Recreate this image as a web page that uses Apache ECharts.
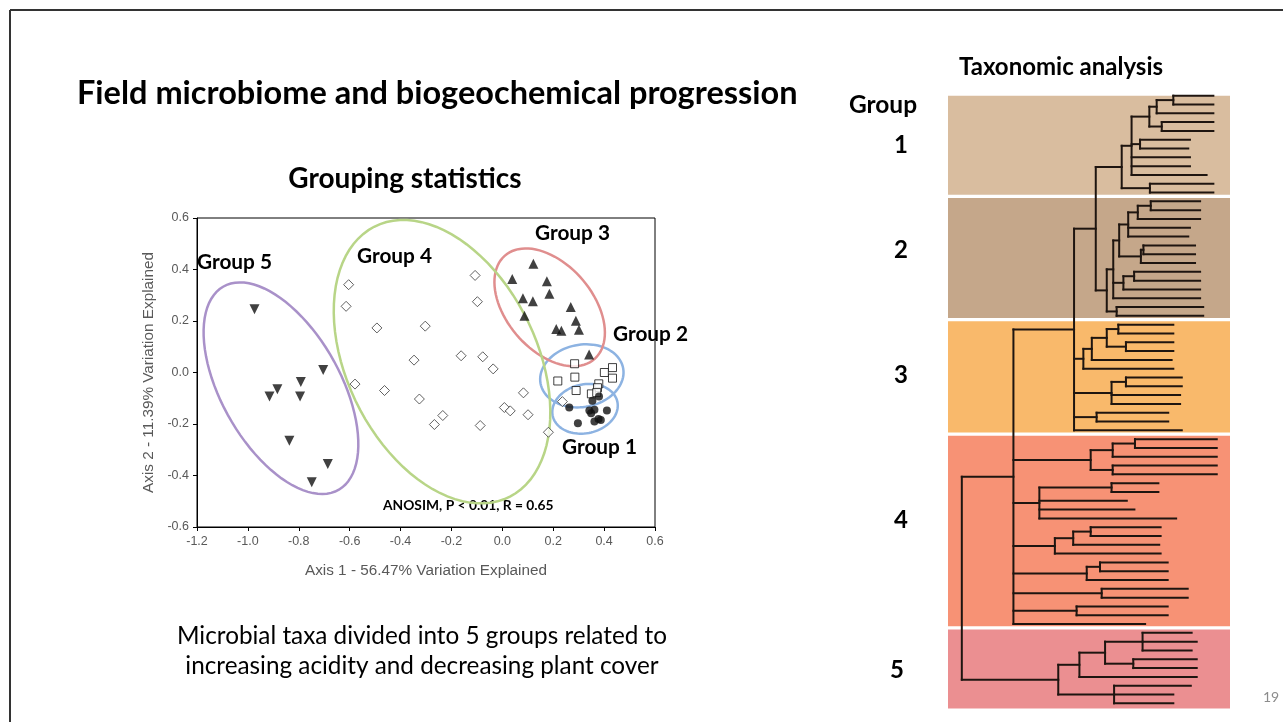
<!DOCTYPE html>
<html><head><meta charset="utf-8">
<script src="https://cdn.jsdelivr.net/npm/echarts@6/dist/echarts.min.js"></script>
<style>html,body{margin:0;padding:0;background:#fff}#c{width:1283px;height:722px}</style>
</head><body><div id="c"></div>
<script>
// ---------- Ordination (PCoA) data ----------
const xTicks = [-1.2, 0.6, 0.2];   // min, max, interval
const yTicks = [-0.6, 0.6, 0.2];
const group1Pts = [[0.354,-0.110],[0.380,-0.093],[0.263,-0.136],[0.342,-0.148],[0.362,-0.145],[0.411,-0.148],[0.349,-0.158],[0.378,-0.181],[0.362,-0.190],[0.297,-0.197],[0.387,-0.184]];
const group2Pts = [[0.284,0.034],[0.218,-0.033],[0.285,-0.018],[0.290,-0.070],[0.433,0.019],[0.401,0.000],[0.433,-0.022],[0.379,-0.044],[0.374,-0.059],[0.350,-0.083],[0.371,-0.078]];
const group3Pts = [[0.122,0.422],[0.039,0.363],[0.175,0.354],[0.185,0.306],[0.081,0.288],[0.120,0.277],[0.269,0.254],[0.087,0.220],[0.289,0.201],[0.212,0.169],[0.232,0.162],[0.301,0.166],[0.341,0.070]];
const group4Pts = [[-0.604,0.341],[-0.614,0.257],[-0.493,0.173],[-0.303,0.180],[-0.107,0.377],[-0.098,0.275],[-0.347,0.048],[-0.162,0.065],[-0.077,0.061],[-0.036,0.014],[-0.579,-0.045],[-0.463,-0.070],[-0.326,-0.103],[-0.234,-0.167],[-0.267,-0.202],[-0.087,-0.206],[0.008,-0.136],[0.031,-0.149],[0.083,-0.079],[0.101,-0.164],[0.181,-0.232],[0.236,-0.113]];
const group5Pts = [[-0.974,0.246],[-0.704,0.010],[-0.792,-0.037],[-0.884,-0.065],[-0.915,-0.093],[-0.795,-0.093],[-0.837,-0.265],[-0.686,-0.355],[-0.749,-0.426]];
// ellipses: center, semi-axes (data units), rotation (deg)
const ellipseCenters = [[0.325,-0.141],[0.3125,-0.013],[0.186,0.253],[-0.237,0.042],[-0.870,-0.061]];
const ellipseAxes = [[0.130,0.095],[0.165,0.121],[0.267,0.168],[0.588,0.372],[0.455,0.233]];
const ellipseAngles = [12,10,-48.5,-63,-60];
const ellipseColors = ['#8db3e2','#8db3e2','#e08e8e','#b8d587','#a991c9'];

// ---------- Dendrogram data (height on 0..1 scale; leaf = tip height) ----------
const tree1 = [0.616,
  [0.651,
    [0.714, [0.740, [0.799, 0.941, 0.941], 0.941], [0.758, 0.941, 0.941]],
    [0.681, 0.858, 0.852], 0.858, 0.858, 0.917],
  [0.716, 0.941, 0.941]];
const tree2 = [0.563,
  [0.586,
    [0.607,
      [0.639, [0.673, [0.719, 0.894, 0.894], 0.894], 0.858, 0.852],
      [0.684, [0.693, 0.876, 0.876], 0.876]],
    [0.622, [0.660, 0.894, 0.894], 0.894],
    0.894],
  [0.598, 0.905, 0.905]];
const tree3Parts = [
  [0.480, [0.510, [0.563, [0.604, 0.799, 0.799], [0.631, 0.799, 0.799]], 0.793], 0.799],
  [0.580, [0.631, 0.829, 0.829], 0.823, 0.823],
  [0.527, 0.781, 0.781],
  0.829];
const tree4Parts = [
  [0.506, [0.584, [0.663, 0.953, 0.953], 0.953], [0.584, 0.953, 0.953]],
  [0.324, [0.580, 0.746, 0.746], 0.634, 0.661, 0.809],
  [0.379, [0.444, [0.506, 0.754, 0.754], 0.749], 0.754],
  [0.492, [0.539, 0.779, 0.779], 0.779],
  [0.545, 0.850, 0.850],
  [0.456, 0.779, 0.779],
  0.699];
const tree5 = [0.391, [0.466, [0.557, [0.690, 0.864, 0.882, 0.864], [0.657, 0.882, 0.882]], 0.882], [0.589, 0.861, 0.799, 0.799]];
const joinHeights = [0.524, 0.447, 0.232, 0.049]; // groups 1+2, +3, +4, +5
const groupLeafCounts = [12, 14, 13, 22, 9];
const bandColors = ['#d9bd9f', '#c5a78a', '#f9b96b', '#f79275', '#eb8f91'];
const groupNumbers = ['1','2','3','4','5'];

// ---------- build dendrogram segments ----------
const fullTree = [joinHeights[3], [joinHeights[2], [joinHeights[1], [joinHeights[0], tree1, tree2], ...tree3Parts], ...tree4Parts], tree5];
let leafCounter = 0;
const segs = [];
function layout(node) {
  if (typeof node === 'number') return {x: node, y: leafCounter++};
  const h = node[0];
  const kids = node.slice(1).map(layout);
  const y0 = kids[0].y, y1 = kids[kids.length - 1].y;
  segs.push([h, y0, h, y1]);
  kids.forEach(k => segs.push([h, k.y, k.x, k.y]));
  return {x: h, y: (y0 + y1) / 2};
}
layout(fullTree);
const totalLeaves = leafCounter;
const yMaxDend = totalLeaves - 1 + 0.6;
const bands = [];
let start = 0;
groupLeafCounts.forEach((n, i) => {
  const top = Math.max(0, start - 0.38);
  const bottom = i === groupLeafCounts.length - 1 ? yMaxDend : start + n - 1 + 0.25;
  bands.push([top, bottom, i]);
  start += n;
});

const FONT = 'Lato, "Open Sans", sans-serif';
const AX = '"Liberation Sans", Arial, sans-serif';
const chart = echarts.init(document.getElementById('c'), null, {renderer: 'canvas'});
const fmt = v => v.toFixed(1);

const option = {
  animation: false,
  backgroundColor: '#ffffff',
  grid: [
    {left: 197, top: 218, width: 458, height: 309, show: true, borderColor: '#000', borderWidth: 1, backgroundColor: 'transparent'},
    {left: 948, top: 95.7, width: 282, height: 612.9, show: false}
  ],
  xAxis: [
    {gridIndex: 0, type: 'value', min: xTicks[0], max: xTicks[1], interval: xTicks[2],
     name: 'Axis 1 - 56.47% Variation Explained', nameLocation: 'middle', nameGap: 36,
     nameTextStyle: {fontFamily: AX, fontSize: 15.3, color: '#595959'},
     axisLine: {onZero: false, lineStyle: {color: '#000', width: 1}}, axisTick: {length: 4, lineStyle: {color: '#000'}},
     axisLabel: {formatter: fmt, fontFamily: AX, fontSize: 12.5, color: '#595959', margin: 8},
     splitLine: {show: false}},
    {gridIndex: 1, type: 'value', min: 0, max: 1, show: false}
  ],
  yAxis: [
    {gridIndex: 0, type: 'value', min: yTicks[0], max: yTicks[1], interval: yTicks[2],
     name: 'Axis 2 - 11.39% Variation Explained', nameLocation: 'middle', nameGap: 41,
     nameTextStyle: {fontFamily: AX, fontSize: 15.3, color: '#595959'},
     axisLine: {show: true, onZero: false, lineStyle: {color: '#000', width: 1}}, axisTick: {show: true, length: 4, lineStyle: {color: '#000'}},
     axisLabel: {formatter: fmt, fontFamily: AX, fontSize: 12.5, color: '#595959', margin: 8},
     splitLine: {show: false}},
    {gridIndex: 1, type: 'value', min: 0, max: yMaxDend, inverse: true, show: false}
  ],
  series: [
    {type: 'custom', name: 'ellipses', xAxisIndex: 0, yAxisIndex: 0, clip: false, silent: true, z: 1,
     data: ellipseCenters.map((c, i) => [c[0], c[1], ellipseAxes[i][0], ellipseAxes[i][1], ellipseAngles[i]]),
     encode: {x: 0, y: 1},
     renderItem(params, api) {
       const cx = api.value(0), cy = api.value(1), a = api.value(2), b = api.value(3), ang = api.value(4) * Math.PI / 180;
       const pts = [];
       for (let i = 0; i <= 90; i++) {
         const t = i / 90 * 2 * Math.PI, dx = a * Math.cos(t), dy = b * Math.sin(t);
         pts.push(api.coord([cx + dx * Math.cos(ang) - dy * Math.sin(ang), cy + dx * Math.sin(ang) + dy * Math.cos(ang)]));
       }
       return {type: 'polygon', shape: {points: pts}, style: {fill: 'none', stroke: ellipseColors[params.dataIndex], lineWidth: 2.5}};
     }},
    {type: 'scatter', name: 'Group 4', data: group4Pts, symbol: 'diamond', symbolSize: 10, z: 3,
     itemStyle: {color: '#fff', borderColor: '#3a3a3a', borderWidth: 1}},
    {type: 'scatter', name: 'Group 5', data: group5Pts, symbol: 'triangle', symbolRotate: 180, symbolSize: 10, z: 3,
     itemStyle: {color: '#111'}},
    {type: 'scatter', name: 'Group 3', data: group3Pts, symbol: 'triangle', symbolSize: 10, z: 3,
     itemStyle: {color: '#111'}},
    {type: 'scatter', name: 'Group 2', data: group2Pts, symbol: 'rect', symbolSize: 8, z: 3,
     itemStyle: {color: '#fff', borderColor: '#111', borderWidth: 1}},
    {type: 'scatter', name: 'Group 1', data: group1Pts, symbol: 'circle', symbolSize: 8, z: 3,
     itemStyle: {color: '#111'}},
    {type: 'custom', name: 'bands', xAxisIndex: 1, yAxisIndex: 1, silent: true, clip: false, z: 1,
     data: bands, encode: {y: [0, 1]},
     renderItem(params, api) {
       const p0 = api.coord([0, api.value(0)]), p1 = api.coord([1, api.value(1)]);
       return {type: 'rect', shape: {x: p0[0], y: p0[1], width: p1[0] - p0[0], height: p1[1] - p0[1]},
               style: {fill: bandColors[api.value(2)]}};
     }},
    {type: 'custom', name: 'dendrogram', xAxisIndex: 1, yAxisIndex: 1, silent: true, clip: false, z: 2,
     data: segs, encode: {x: [0, 2], y: [1, 3]},
     renderItem(params, api) {
       const p0 = api.coord([api.value(0), api.value(1)]), p1 = api.coord([api.value(2), api.value(3)]);
       return {type: 'line', shape: {x1: p0[0], y1: p0[1], x2: p1[0], y2: p1[1]},
               style: {stroke: '#1e1510', lineWidth: 2, lineCap: 'square'}};
     }}
  ],
  graphic: [
    {type: 'line', shape: {x1: 10, y1: 10, x2: 1283, y2: 10}, style: {stroke: '#333', lineWidth: 2}},
    {type: 'line', shape: {x1: 10, y1: 10, x2: 10, y2: 722}, style: {stroke: '#333', lineWidth: 2}},
    {type: 'text', style: {text: 'Field microbiome and biogeochemical progression', x: 77, y: 94, fontFamily: FONT, fontWeight: 'bold', fontSize: 32.5, fill: '#000', verticalAlign: 'middle'}},
    {type: 'text', style: {text: 'Grouping statistics', x: 405, y: 179, align: 'center', fontFamily: FONT, fontWeight: 'bold', fontSize: 28, fill: '#000', verticalAlign: 'middle'}},
    {type: 'text', style: {text: 'Taxonomic analysis', x: 1061, y: 67, align: 'center', fontFamily: FONT, fontWeight: 'bold', fontSize: 24, fill: '#000', verticalAlign: 'middle'}},
    {type: 'text', style: {text: 'Group', x: 883, y: 105, align: 'center', fontFamily: FONT, fontWeight: 'bold', fontSize: 24.5, fill: '#000', verticalAlign: 'middle'}},
    ...groupNumbers.map((t, i) => ({type: 'text', style: {text: t, x: [901, 901, 901, 901, 897][i], y: [145, 250, 375, 520, 670][i], align: 'center', fontFamily: FONT, fontWeight: 'bold', fontSize: 24, fill: '#000', verticalAlign: 'middle'}})),
    {type: 'text', style: {text: 'Group 5', x: 197, y: 262, fontFamily: FONT, fontWeight: 'bold', fontSize: 20.8, fill: '#000', verticalAlign: 'middle'}},
    {type: 'text', style: {text: 'Group 4', x: 357, y: 256, fontFamily: FONT, fontWeight: 'bold', fontSize: 20.8, fill: '#000', verticalAlign: 'middle'}},
    {type: 'text', style: {text: 'Group 3', x: 535, y: 233, fontFamily: FONT, fontWeight: 'bold', fontSize: 20.8, fill: '#000', verticalAlign: 'middle'}},
    {type: 'text', style: {text: 'Group 2', x: 613, y: 334, fontFamily: FONT, fontWeight: 'bold', fontSize: 20.8, fill: '#000', verticalAlign: 'middle'}},
    {type: 'text', style: {text: 'Group 1', x: 562, y: 447, fontFamily: FONT, fontWeight: 'bold', fontSize: 20.8, fill: '#000', verticalAlign: 'middle'}},
    {type: 'text', style: {text: 'ANOSIM, P < 0.01, R = 0.65', x: 383, y: 506, fontFamily: FONT, fontWeight: 'bold', fontSize: 13.8, fill: '#000', verticalAlign: 'middle'}},
    {type: 'text', style: {text: 'Microbial taxa divided into 5 groups related to', x: 422, y: 636, align: 'center', fontFamily: FONT, fontSize: 24.3, fill: '#000', verticalAlign: 'middle'}},
    {type: 'text', style: {text: 'increasing acidity and decreasing plant cover', x: 422, y: 666, align: 'center', fontFamily: FONT, fontSize: 24.3, fill: '#000', verticalAlign: 'middle'}},
    {type: 'text', style: {text: '19', x: 1271, y: 697, align: 'center', fontFamily: FONT, fontSize: 14, fill: '#8c8c8c', verticalAlign: 'middle'}}
  ]
};
chart.setOption(option);
</script></body></html>
